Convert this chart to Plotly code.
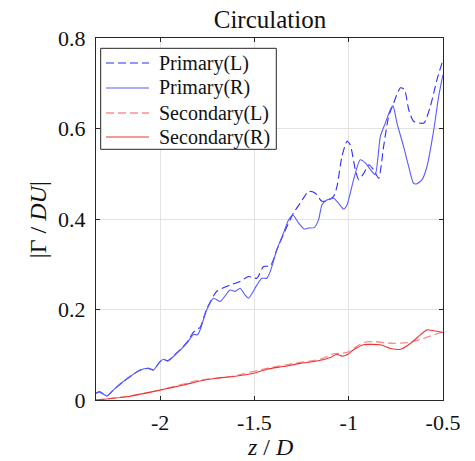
import plotly.graph_objects as go

# Primary (R) - solid blue
pr_x = [-2.34, -2.32, -2.283, -2.248, -2.195, -2.107, -2.062, -2.036, -2.0, -1.982, -1.96, -1.912, -1.859,
        -1.823, -1.802, -1.788, -1.753, -1.717, -1.682, -1.629, -1.602, -1.576, -1.549, -1.531, -1.487,
        -1.461, -1.434, -1.416, -1.381, -1.346, -1.319, -1.296, -1.266, -1.236, -1.213, -1.183, -1.16,
        -1.142, -1.116, -1.08, -1.054, -1.027, -1.009, -0.974, -0.939, -0.912, -0.877, -0.859, -0.832,
        -0.806, -0.779, -0.765, -0.744, -0.709, -0.682, -0.656, -0.638, -0.611, -0.585, -0.549, -0.523, -0.5]
pr_y = [0.015, 0.018, 0.009, 0.022, 0.041, 0.066, 0.070, 0.066, 0.085, 0.090, 0.086, 0.103, 0.125,
        0.145, 0.144, 0.155, 0.199, 0.225, 0.218, 0.243, 0.240, 0.247, 0.232, 0.225, 0.254,
        0.269, 0.269, 0.284, 0.332, 0.369, 0.398, 0.409, 0.391, 0.378, 0.380, 0.381, 0.398,
        0.431, 0.442, 0.446, 0.435, 0.422, 0.431, 0.487, 0.531, 0.524, 0.505, 0.498, 0.583,
        0.612, 0.642, 0.650, 0.612, 0.560, 0.516, 0.479, 0.478, 0.487, 0.516, 0.597, 0.671, 0.719]

# Primary (L) - dashed blue
pl_x = [-2.34, -2.32, -2.283, -2.248, -2.195, -2.107, -2.062, -2.036, -2.0, -1.982, -1.96, -1.912, -1.859,
        -1.823, -1.80, -1.788, -1.753, -1.70, -1.629, -1.576, -1.531, -1.487, -1.452, -1.416, -1.381,
        -1.328, -1.293, -1.257, -1.213, -1.177, -1.142, -1.107, -1.08, -1.062, -1.036, -1.009, -0.992,
        -0.965, -0.947, -0.92, -0.894, -0.868, -0.841, -0.815, -0.788, -0.762, -0.726, -0.704, -0.682,
        -0.656, -0.602, -0.567, -0.532, -0.5]
pl_y = [0.015, 0.018, 0.009, 0.022, 0.041, 0.066, 0.070, 0.067, 0.085, 0.090, 0.087, 0.104, 0.127,
        0.150, 0.158, 0.160, 0.201, 0.240, 0.254, 0.262, 0.273, 0.269, 0.295, 0.296, 0.332,
        0.383, 0.413, 0.435, 0.461, 0.457, 0.439, 0.442, 0.450, 0.472, 0.538, 0.572, 0.564,
        0.509, 0.487, 0.501, 0.520, 0.509, 0.490, 0.560, 0.627, 0.656, 0.690, 0.686, 0.642,
        0.616, 0.612, 0.649, 0.708, 0.752]

# Secondary (L) - dashed red
sl_x = [-2.34, -2.177, -2.0, -1.788, -1.611, -1.434, -1.257, -1.151, -1.080, -1.009, -0.974, -0.921,
        -0.868, -0.762, -0.691, -0.620, -0.549, -0.5]
sl_y = [0.0, 0.008, 0.022, 0.044, 0.053, 0.070, 0.083, 0.090, 0.102, 0.105, 0.114, 0.127,
        0.129, 0.125, 0.127, 0.134, 0.144, 0.151]

# Secondary (R) - solid red
sr_x = [-2.34, -2.177, -2.0, -1.876, -1.788, -1.70, -1.611, -1.505, -1.434, -1.346, -1.257, -1.169,
        -1.098, -1.062, -1.036, -1.009, -0.974, -0.921, -0.833, -0.779, -0.726, -0.673, -0.620,
        -0.585, -0.549, -0.5]
sr_y = [0.0, 0.007, 0.022, 0.033, 0.042, 0.048, 0.052, 0.059, 0.068, 0.074, 0.081, 0.086,
        0.094, 0.101, 0.097, 0.100, 0.111, 0.122, 0.122, 0.114, 0.112, 0.125, 0.144,
        0.155, 0.153, 0.149]

series_names = ["Primary(L)", "Primary(R)", "Secondary(L)", "Secondary(R)"]

x_ticks = [-2, -1.5, -1, -0.5]
x_tick_text = ["-2", "-1.5", "-1", "-0.5"]
y_ticks = [0, 0.2, 0.4, 0.6, 0.8]
y_tick_text = ["0", "0.2", "0.4", "0.6", "0.8"]

SERIF = "Liberation Serif"
AX = "#262626"
TXT = "#111111"
DASH = "8px,4px"
styles = [
    dict(color="#2c2cff", width=1.1, dash=DASH),
    dict(color="#5a5aff", width=1.1, dash="solid"),
    dict(color="#ff8c8c", width=1.3, dash=DASH),
    dict(color="#ee3535", width=1.1, dash="solid"),
]
xs = [pl_x, pr_x, sl_x, sr_x]
ys = [pl_y, pr_y, sl_y, sr_y]

fig = go.Figure()
for name, x, y, st in zip(series_names, xs, ys, styles):
    fig.add_trace(go.Scatter(x=x, y=y, mode="lines", name=name,
                             line=dict(shape="spline", smoothing=0.6, **st)))

# legend box drawn in paper coordinates
shapes = [dict(type="rect", xref="paper", yref="paper", x0=0.0135, x1=0.5196, y0=0.6925, y1=0.9715,
               line=dict(color=AX, width=1), fillcolor="white", layer="above")]
annotations = []
row_y = [0.9309, 0.8619, 0.7928, 0.7265]
for name, st, ry in zip(series_names, styles, row_y):
    shapes.append(dict(type="line", xref="paper", yref="paper", x0=0.0288, x1=0.1527, y0=ry, y1=ry,
                       line=dict(color=st["color"], width=st["width"], dash=st["dash"]), layer="above"))
    annotations.append(dict(text=name, xref="paper", yref="paper", x=0.1758, y=ry, xanchor="left",
                            yanchor="middle", showarrow=False,
                            font=dict(family=SERIF, size=20, color=TXT)))

annotations.append(dict(text="<i>z</i> / <i>D</i>", xref="paper", yref="paper", x=0.5, y=-0.1298,
                        xanchor="center", yanchor="middle", showarrow=False,
                        font=dict(family=SERIF, size=24, color=TXT)))
annotations.append(dict(text="|Γ / <i>DU</i>|", xref="paper", yref="paper", x=-0.167, y=0.497,
                        xanchor="center", yanchor="middle", showarrow=False, textangle=-90,
                        font=dict(family=SERIF, size=24, color=TXT)))

fig.update_layout(
    width=475, height=461,
    margin=dict(l=96, r=32, t=38, b=61, autoexpand=False),
    paper_bgcolor="white", plot_bgcolor="white",
    font=dict(family=SERIF, color=AX),
    title=dict(text="Circulation", x=0.5684, xanchor="center", y=0.9588, yanchor="middle",
               font=dict(family=SERIF, size=25, color=TXT)),
    showlegend=False,
    shapes=shapes,
    annotations=annotations,
    xaxis=dict(range=[-2.34, -0.5], tickvals=x_ticks, ticktext=x_tick_text,
               showgrid=True, gridcolor="#e3e3e3", gridwidth=1,
               showline=True, linecolor=AX, linewidth=1, mirror="ticks",
               ticks="inside", ticklen=4, tickcolor=AX, automargin=False,
               ticklabelstandoff=3,
               tickfont=dict(family=SERIF, size=22, color=TXT),
               zeroline=False),
    yaxis=dict(range=[0, 0.8], tickvals=y_ticks, ticktext=y_tick_text,
               showgrid=True, gridcolor="#e3e3e3", gridwidth=1,
               showline=True, linecolor=AX, linewidth=1, mirror="ticks",
               ticks="inside", ticklen=4, tickcolor=AX, automargin=False,
               ticklabelstandoff=5,
               tickfont=dict(family=SERIF, size=22, color=TXT),
               zeroline=False),
)

fig.write_html("out.html", config={"displayModeBar": False},
               post_script="document.body.style.margin='0px';")
